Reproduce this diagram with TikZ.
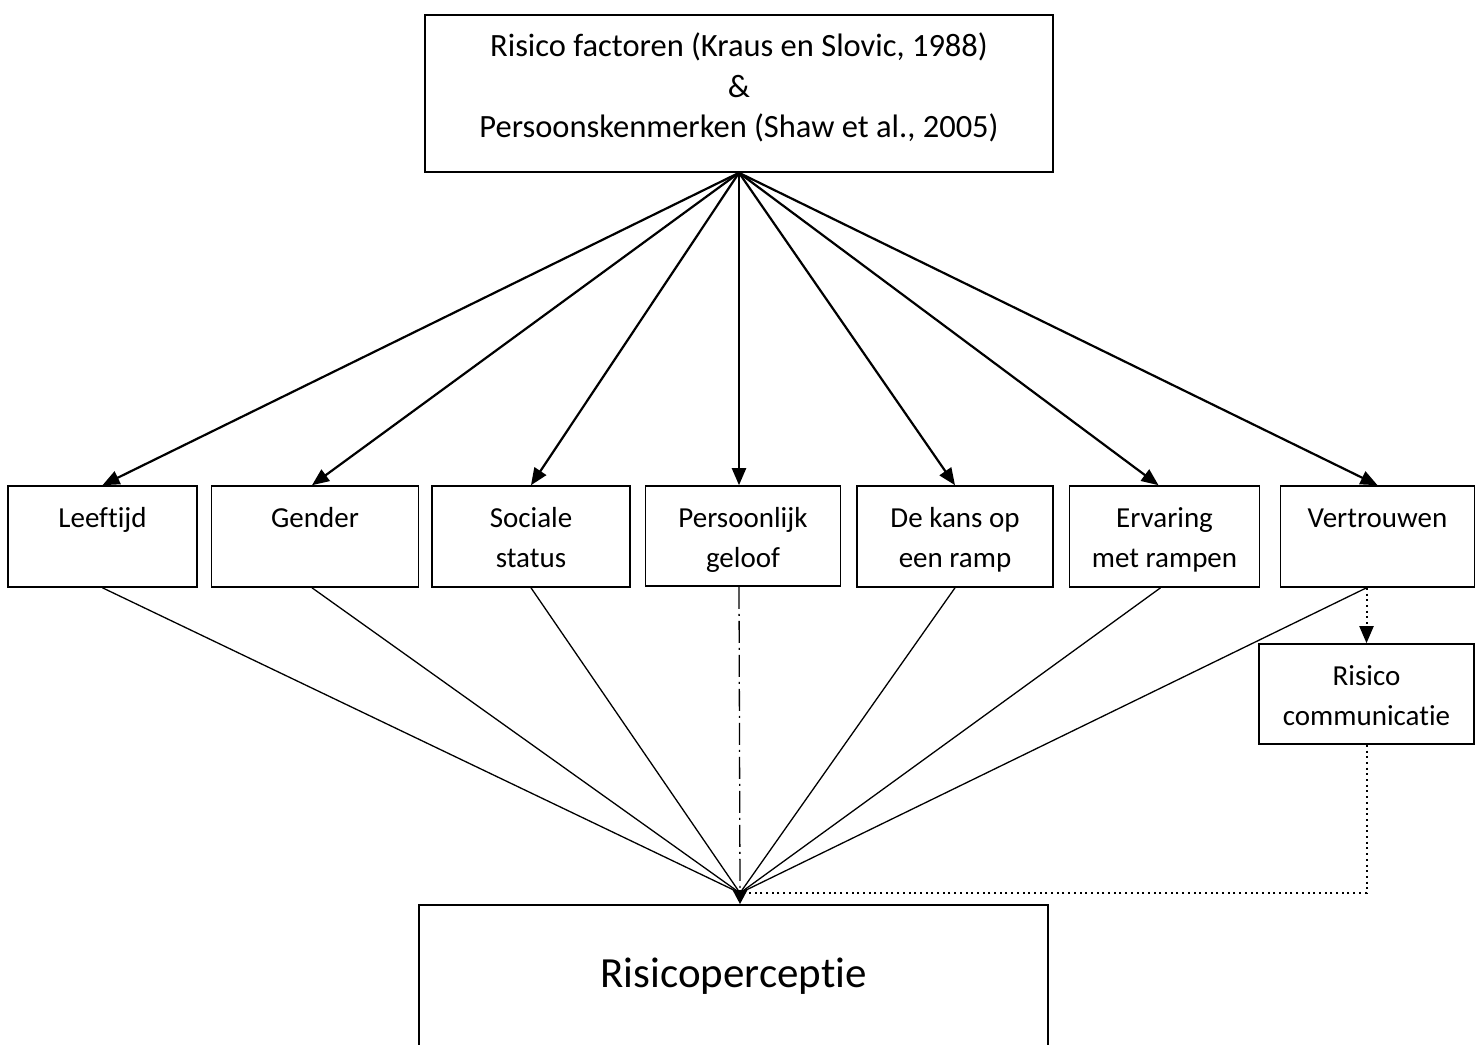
\documentclass[tikz,border=0pt]{standalone}
\usepackage{fontspec}
\setmainfont{Carlito}[Ligatures=NoCommon]
\usetikzlibrary{arrows.meta,calc}
\newcommand\bxstrut{\rule[-9pt]{0pt}{40pt}}
\begin{document}
\begin{tikzpicture}[x=1pt,y=-1pt,
  box/.style={draw,line width=1.6pt,inner sep=0pt,align=center,font=\fontsize{29}{40}\selectfont},
  fbox/.style={box,minimum height=101pt},
  toparrow/.style={line width=2.2pt,-{Triangle[length=17pt,width=14pt]}},
  lowline/.style={line width=1.3pt},
  dotline/.style={line width=2pt,dash pattern=on 2pt off 3.7pt},
]
\useasboundingbox (0,0) rectangle (1483,1044);
\node[box,minimum width=628pt,minimum height=157pt] (top) at (739,93.5) {};
\node[inner sep=0pt,align=center,font=\fontsize{32.5}{40.5}\selectfont] (toptext) at (739,89)
  {\strut Risico factoren (Kraus en Slovic, 1988)\\ \strut\&\\ \strut Persoonskenmerken (Shaw et al., 2005)};
\node[fbox,minimum width=189pt] (lee) at (102.5,536.5) {\bxstrut Leeftijd\\ \bxstrut};
\node[fbox,minimum width=207pt] (gen) at (315,536.5) {\bxstrut Gender\\ \bxstrut};
\node[fbox,minimum width=198pt] (soc) at (531,536.5) {\bxstrut Sociale\\ \bxstrut status};
\node[fbox,minimum width=195pt,minimum height=100pt] (per) at (743,536) {\bxstrut Persoonlijk\\ \bxstrut geloof};
\node[fbox,minimum width=196pt] (kan) at (955,536.5) {\bxstrut De kans op\\ \bxstrut een ramp};
\node[fbox,minimum width=190pt] (erv) at (1164.5,536.5) {\bxstrut Ervaring\\ \bxstrut met rampen};
\node[fbox,minimum width=194pt] (ver) at (1377.5,536.5) {\bxstrut Vertrouwen\\ \bxstrut};
\node[box,minimum width=215pt,minimum height=100pt] (rc) at (1366.5,694) {\bxstrut Risico\\ \bxstrut communicatie};
\node[box,minimum width=629pt,minimum height=142pt,font=\fontsize{43}{48}\selectfont] (rp) at (733.5,976) {Risicoperceptie};
\coordinate (m) at (740,893);
% arrows from top
\draw[toparrow] (top.south) -- (lee.north);
\draw[toparrow] (top.south) -- ($(gen.north)+(-3,0)$);
\draw[toparrow] (top.south) -- (soc.north);
\draw[toparrow] (top.south) -- (top.south |- per.north);
\draw[toparrow] (top.south) -- (kan.north);
\draw[toparrow] (top.south) -- ($(erv.north)+(-6,0)$);
\draw[toparrow] (top.south) -- (ver.north);
% lines to meeting point
\draw[lowline] (lee.south) -- (m);
\draw[lowline] ($(gen.south)+(-3,0)$) -- (m);
\draw[lowline] (soc.south) -- (m);
\draw[lowline,dash pattern=on 22pt off 5pt on 2pt off 5pt] (top.south |- per.south) -- (m);
\draw[lowline] (kan.south) -- (m);
\draw[lowline] ($(erv.south)+(-4,0)$) -- (m);
\draw[lowline] (ver.south -| rc.north) -- (m);
% dotted path
\draw[dotline,-{Triangle[length=17pt,width=14pt]}] (ver.south -| rc.north) -- (rc.north);
\draw[dotline] (rc.south) -- (rc.south |- m) -- (m);
% final arrow
\draw[line width=2.6pt,-{Triangle[length=14pt,width=14pt]}] (m) -- (m |- rp.north);
\end{tikzpicture}
\end{document}
